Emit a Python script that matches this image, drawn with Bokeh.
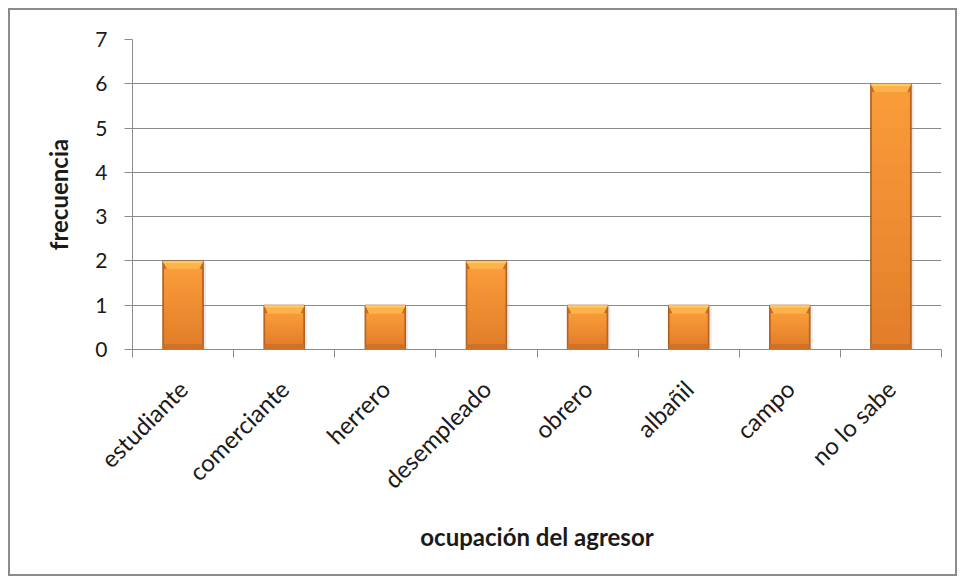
from bokeh.plotting import figure
from bokeh.models import FixedTicker, ColumnDataSource, Range1d
from bokeh.embed import file_html
from bokeh.resources import INLINE
import math

categories = ["estudiante", "comerciante", "herrero", "desempleado",
              "obrero", "albañil", "campo", "no lo sabe"]
frecuencia = [2, 1, 1, 2, 1, 1, 1, 6]
y_ticks = [0, 1, 2, 3, 4, 5, 6, 7]

FONT = "Lato"
xs = [i + 0.5 for i in range(len(categories))]
bw = 0.4
bevel = 0.19

src = ColumnDataSource(dict(x=xs, top=frecuencia, cat=categories))

p = figure(width=949, height=568, output_backend="svg", toolbar_location=None,
           x_range=Range1d(0, len(categories)), y_range=Range1d(0, 7),
           min_border_left=122, min_border_top=29, min_border_right=18,
           min_border_bottom=229)
p.styles = {"border": "2px solid #8c8c8c", "margin": "8px 0 0 8px"}
p.outline_line_color = None
p.background_fill_color = "white"

# shadow
p.vbar(x=[x + 0.012 for x in xs], top=[v - 0.03 for v in frecuencia],
       bottom=0, width=bw + 0.03, fill_color="#9a9a9a", fill_alpha=0.22,
       line_color=None)
# main bar (dark rim)
p.vbar(x="x", top="top", bottom=0, width=bw, source=src,
       fill_color="#C86A22", line_color="#A85C1C", line_width=1)

# body: smooth vertical gradient (styling only), darker at the bottom
def mix(c1, c2, t):
    a = [int(c1[i:i + 2], 16) for i in (1, 3, 5)]
    b = [int(c2[i:i + 2], 16) for i in (1, 3, 5)]
    return "#%02x%02x%02x" % tuple(round(a[k] + (b[k] - a[k]) * t) for k in range(3))

N = 14
for k in range(N):
    t0, t1 = k / N, (k + 1) / N
    col = mix("#E27E2A", "#FA9C3A", (k + 0.5) / N)
    p.vbar(x=xs, top=[0.12 + (v - bevel - 0.12) * t1 for v in frecuencia],
           bottom=[0.12 + (v - bevel - 0.12) * t0 for v in frecuencia],
           width=bw - 0.035, fill_color=col, line_color=col, line_width=1)
# bottom bevel
p.vbar(x=xs, top=0.12, bottom=0.01, width=bw - 0.01,
       fill_color="#D07026", line_color=None)
# top bevel
tx, ty = [], []
for x, v in zip(xs, frecuencia):
    tx.append([x - bw / 2, x + bw / 2, x + bw / 2 - 0.04, x - bw / 2 + 0.04])
    ty.append([v, v, v - bevel, v - bevel])
p.patches(tx, ty, fill_color="#FDB24A", line_color=None)
p.vbar(x=xs, top=frecuencia, bottom=[v - 0.05 for v in frecuencia],
       width=bw - 0.01, fill_color="#FFCC66", line_color=None, fill_alpha=0.9)

# axes
p.yaxis.ticker = FixedTicker(ticks=y_ticks)
p.ygrid.ticker = FixedTicker(ticks=y_ticks)
p.ygrid.grid_line_color = "#8a8a8a"
p.xgrid.grid_line_color = None
p.yaxis.axis_line_color = "#8a8a8a"
p.yaxis.major_tick_line_color = "#8a8a8a"
p.yaxis.major_tick_in = 0
p.yaxis.major_tick_out = 8
p.yaxis.minor_tick_line_color = None
p.yaxis.major_label_text_font = FONT
p.yaxis.major_label_text_font_size = "21px"
p.yaxis.major_label_text_color = "#1a1a1a"
p.yaxis.major_label_standoff = 17
p.yaxis.axis_label = "frecuencia"
p.yaxis.axis_label_text_font = FONT
p.yaxis.axis_label_text_font_style = "bold"
p.yaxis.axis_label_text_font_size = "24px"
p.yaxis.axis_label_text_color = "#1a1a1a"
p.yaxis.axis_label_standoff = 19

p.xaxis.ticker = FixedTicker(ticks=xs, minor_ticks=list(range(len(categories) + 1)))
p.xaxis.major_label_overrides = {x: c for x, c in zip(xs, categories)}
p.xaxis.major_label_orientation = math.pi / 4
p.xaxis.axis_line_color = "#8a8a8a"
p.xaxis.major_tick_line_color = None
p.xaxis.minor_tick_line_color = "#8a8a8a"
p.xaxis.minor_tick_in = 0
p.xaxis.minor_tick_out = 8
p.xaxis.major_label_text_font = FONT
p.xaxis.major_label_text_font_size = "24px"
p.xaxis.major_label_text_color = "#1a1a1a"
p.xaxis.major_label_standoff = 27
p.xaxis.axis_label = "ocupación del agresor"
p.xaxis.axis_label_text_font = FONT
p.xaxis.axis_label_text_font_style = "bold"
p.xaxis.axis_label_text_font_size = "24px"
p.xaxis.axis_label_text_color = "#1a1a1a"
p.xaxis.axis_label_standoff = 15

open("out.html", "w").write(file_html(p, INLINE))
